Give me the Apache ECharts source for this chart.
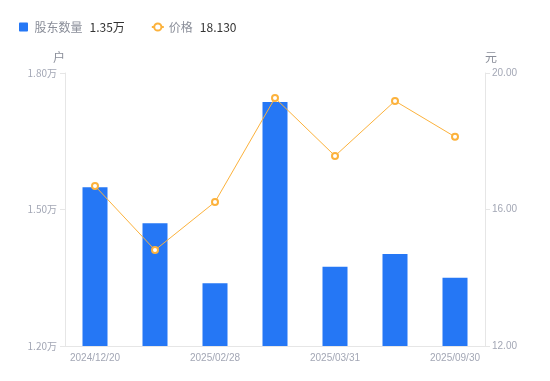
<!DOCTYPE html>
<html>
<head>
<meta charset="utf-8">
<script src="https://cdn.jsdelivr.net/npm/echarts@6/dist/echarts.min.js"></script>
<style>
html, body { margin: 0; padding: 0; background: #fff; }
#chart { width: 550px; height: 381px; }
</style>
</head>
<body>
<div id="chart"></div>
<script>
// 股东数量 / 价格 双轴图
const dates = ['2024/12/20', '2024/12/31', '2025/02/28', '2025/03/10', '2025/03/31', '2025/06/30', '2025/09/30'];
const holders = [15490, 14700, 13380, 17360, 13740, 14020, 13500]; // 户
const prices = [16.69, 14.81, 16.22, 19.27, 17.57, 19.18, 18.13]; // 元
const leftTicks = { min: 12000, max: 18000, interval: 3000 };
const rightTicks = { min: 12, max: 20, interval: 4 };

const barColor = '#2577f5';
const lineColor = '#fcb23c';
const labelColor = '#a3a7b5';
const axisColor = '#e6e6e6';

const lastHolder = (holders[holders.length - 1] / 10000).toFixed(2) + '万';
const lastPrice = prices[prices.length - 1].toFixed(3);

const chart = echarts.init(document.getElementById('chart'));
const option = {
    backgroundColor: '#fff',
    textStyle: { fontFamily: 'Noto Sans CJK SC, sans-serif' },
    legend: {
        left: 14,
        top: 16,
        itemGap: 26,
        itemWidth: 12,
        itemHeight: 9,
        symbolKeepAspect: true,
        data: [
            { name: '股东数量', icon: 'path://M1,0h8a1,1 0 0 1 1,1v8a1,1 0 0 1 -1,1h-8a1,1 0 0 1 -1,-1v-8a1,1 0 0 1 1,-1z', itemStyle: { color: barColor } },
            { name: '价格' }
        ],
        formatter: function (name) {
            const v = name === '股东数量' ? lastHolder : lastPrice;
            return '{n|' + name + '}{v|' + v + '}';
        },
        textStyle: {
            rich: {
                n: { color: '#8a8e99', fontSize: 12 },
                v: { color: '#333', fontSize: 12, padding: [0, 0, 0, 7] }
            }
        }
    },
    grid: { left: 65, right: 65, top: 73, bottom: 35 },
    xAxis: {
        type: 'category',
        data: dates,
        axisLine: { lineStyle: { color: axisColor } },
        axisTick: { show: false },
        axisLabel: { color: labelColor, fontSize: 10, interval: 1, margin: 7, fontFamily: 'Liberation Sans' }
    },
    yAxis: [
        {
            type: 'value',
            name: '户',
            min: leftTicks.min,
            max: leftTicks.max,
            interval: leftTicks.interval,
            nameGap: 10,
            nameTextStyle: { color: '#8a8e99', fontSize: 12, align: 'right' },
            axisLine: { show: true, lineStyle: { color: axisColor } },
            axisTick: { show: true, length: 5, lineStyle: { color: axisColor } },
            splitLine: { show: false },
            axisLabel: {
                color: labelColor, fontSize: 10, margin: 8,
                formatter: v => (v / 10000).toFixed(2) + '万'
            }
        },
        {
            type: 'value',
            name: '元',
            min: rightTicks.min,
            max: rightTicks.max,
            interval: rightTicks.interval,
            nameGap: 10,
            nameTextStyle: { color: '#8a8e99', fontSize: 12, align: 'left' },
            axisLine: { show: true, lineStyle: { color: axisColor } },
            axisTick: { show: true, length: 5, lineStyle: { color: axisColor } },
            splitLine: { show: false },
            axisLabel: {
                color: labelColor, fontSize: 10, margin: 7, fontFamily: 'Liberation Sans',
                formatter: v => v.toFixed(2)
            }
        }
    ],
    series: [
        {
            name: '股东数量',
            type: 'bar',
            yAxisIndex: 0,
            barWidth: 25,
            itemStyle: { color: barColor },
            data: holders
        },
        {
            name: '价格',
            type: 'line',
            yAxisIndex: 1,
            symbol: 'emptyCircle',
            symbolSize: 6,
            lineStyle: { color: lineColor, width: 1 },
            itemStyle: { color: lineColor, borderWidth: 1.5 },
            data: prices
        }
    ]
};
chart.setOption(option);
</script>
</body>
</html>
